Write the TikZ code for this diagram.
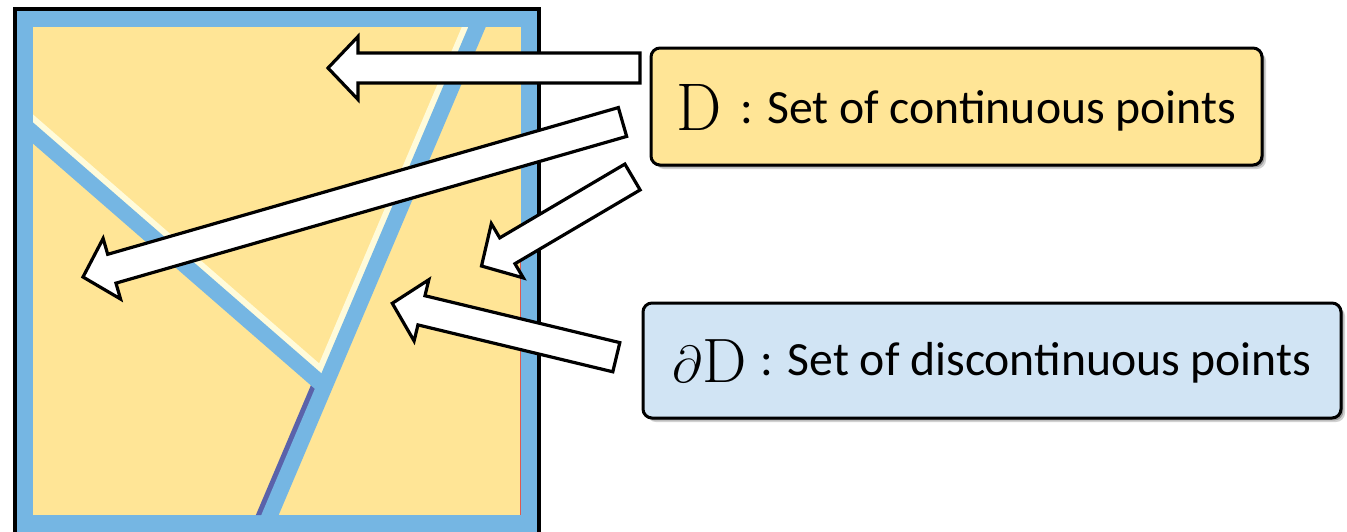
\documentclass[tikz,border=0pt]{standalone}
\usepackage{fontspec}
\usepackage{graphicx}
\newfontfamily\calibri{Carlito}
\usetikzlibrary{calc,shadows}

\definecolor{bandblue}{RGB}{117,182,227}
\definecolor{regionyellow}{RGB}{255,229,150}
\definecolor{creamhi}{RGB}{255,251,218}
\definecolor{violetedge}{RGB}{90,98,170}
\definecolor{rededge}{RGB}{222,90,80}
\definecolor{boxblue}{RGB}{209,228,244}

\tikzset{
  blockarrow/.style={fill=white, draw=black, line width=1.6pt, line join=miter},
  labelbox/.style={draw=black, line width=1.5pt, rounded corners=4.5pt,
    inner sep=0pt, align=center,
    drop shadow={shadow xshift=2pt, shadow yshift=-2pt, opacity=0.18, fill=black},
    drop shadow={shadow xshift=1.2pt, shadow yshift=-1.2pt, opacity=0.25, fill=black}},
  border/.style={line width=8pt, bandblue},
}

% block arrow from tail #1 to tip #2
\newcommand\blockarrow[2]{%
  \coordinate (#2-h) at ($(#2)!15pt!(#1)$);
  \draw[blockarrow]
    ($(#1)!7.5pt!90:(#2)$) -- ($(#2-h)!7.5pt!90:(#2)$) -- ($(#2-h)!15.75pt!90:(#2)$)
    -- (#2) -- ($(#2-h)!15.75pt!-90:(#2)$) -- ($(#2-h)!7.5pt!-90:(#2)$)
    -- ($(#1)!7.5pt!-90:(#2)$) -- cycle;}

\begin{document}
\begin{tikzpicture}[x=0.5pt,y=-0.5pt]
\useasboundingbox (0,0) rectangle (1347,531);
\clip (0,0) rectangle (1347,531);

% domain: blue band and yellow interior
\fill[bandblue] (17,11) rectangle (537,540);
\fill[regionyellow] (33,27) rectangle (521,515);

% boundary curves
\coordinate (J) at (324.47,386.58);
\coordinate (lineL) at (17,119.1);
\coordinate (diagT) at (483.8,11);
\coordinate (diagB) at (263.2,531);

% light rim of the upper middle region
\begin{scope}
  \clip (33,133) -- (J) -- (477,27) -- (33,27) -- cycle;
  \draw[creamhi, line width=14pt, line join=miter] (lineL) -- (J) -- (diagT);
\end{scope}
% dark rim of the lower left region
\begin{scope}
  \clip (33,133) -- (J) -- (270,515) -- (33,515) -- cycle;
  \draw[violetedge, line width=13pt] (J) -- (diagB);
\end{scope}

\begin{scope}
  \clip (17,11) rectangle (537,531);
  \draw[border] (lineL) -- (J);
  \draw[border] (diagT) -- (diagB);
\end{scope}

% thin red edge on the right
\draw[rededge, line width=0.8pt] (520.4,255) -- (520.4,515);

% outer frame
\draw[black, line width=2pt] (15,9) rectangle (539,560);

% labels
\node[labelbox, fill=regionyellow, minimum width=305.5pt, minimum height=58.5pt,
      text height=24pt, text depth=7.5pt] (cont) at (956.5,106.5)
  {\raisebox{-3.6pt}{\resizebox{22.6pt}{23pt}{\fontsize{30}{30}\selectfont D}}\hspace{9pt}{\calibri\fontsize{23.85}{28}\selectfont : Set of continuous points}};

\node[labelbox, fill=boxblue, minimum width=349pt, minimum height=57.5pt,
      text height=22pt, text depth=7.5pt] (disc) at (992,360.5)
  {\raisebox{-3.7pt}{\resizebox{!}{21.4pt}{\fontsize{30}{30}\selectfont$\partial\mathrm{D}$}}\hspace{7pt}{\calibri\fontsize{23.85}{28}\selectfont : Set of discontinuous points}};

% arrows pointing into the regions
\coordinate (t1) at (640,68);     \coordinate (p1) at (328,68);
\coordinate (t2) at (622.5,122);  \coordinate (p2) at (83,277);
\coordinate (t3) at (632.5,177);  \coordinate (p3) at (481.5,266);
\coordinate (t4) at (616.3,357.2);\coordinate (p4) at (392.3,303.3);
\blockarrow{t1}{p1}
\blockarrow{t2}{p2}
\blockarrow{t3}{p3}
\blockarrow{t4}{p4}
\end{tikzpicture}
\end{document}
